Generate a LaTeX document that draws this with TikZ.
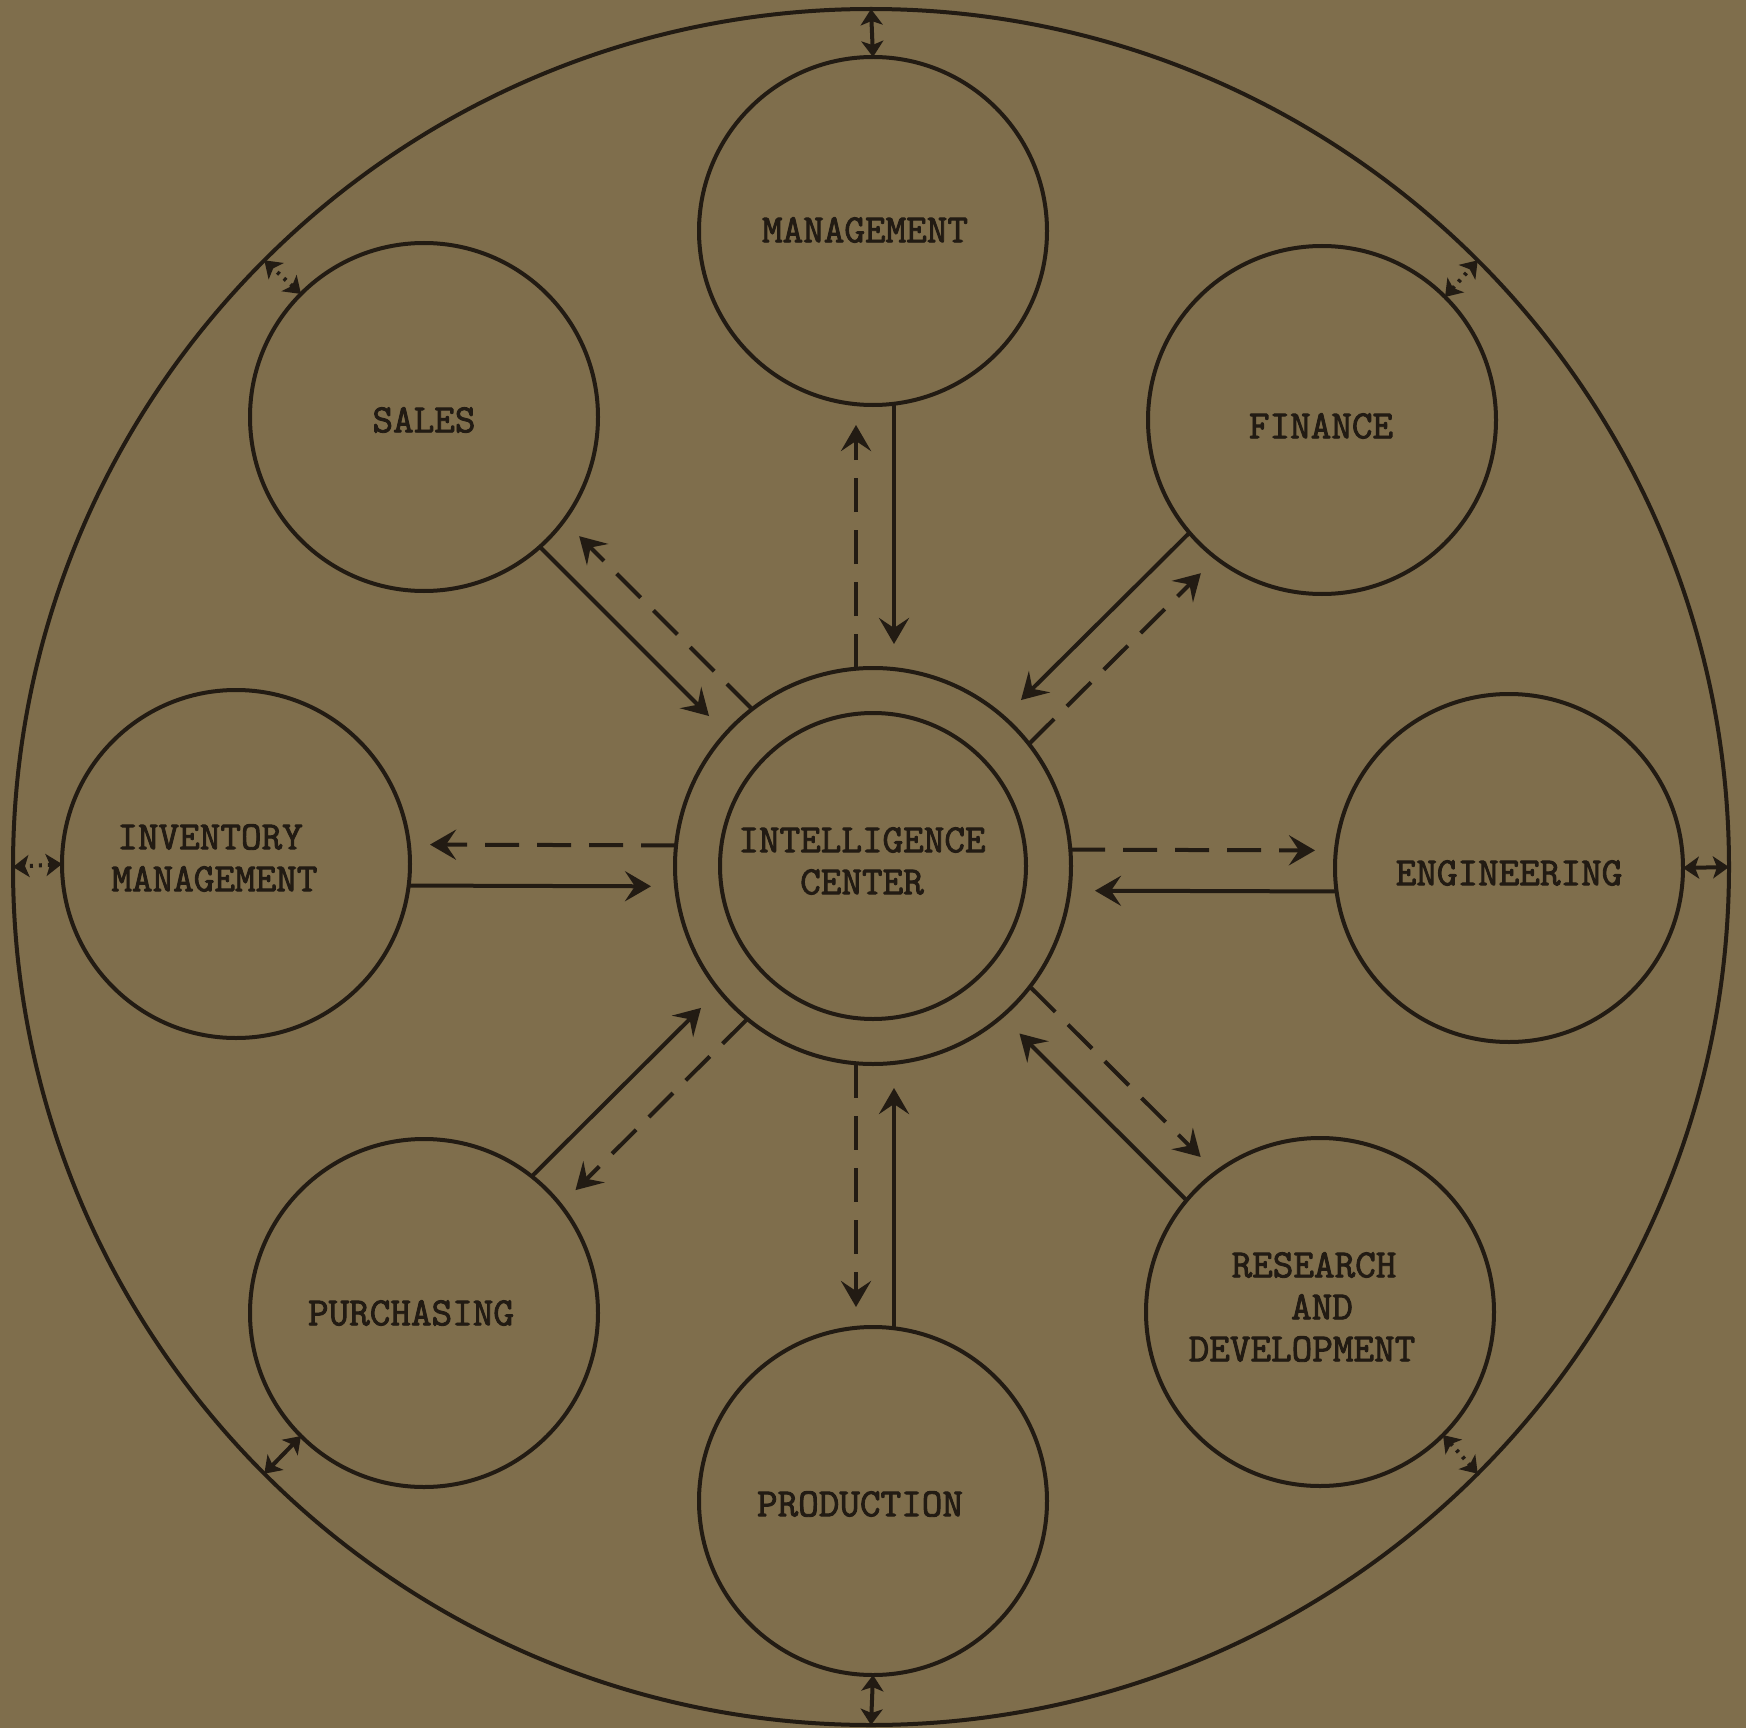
\documentclass[tikz,border=0pt]{standalone}
\usepackage{fontspec}
\newfontfamily\twfont{Latin Modern Mono}[FakeBold=2.2]
\usetikzlibrary{arrows.meta}
\definecolor{paper}{HTML}{7F6E4C}
\definecolor{ink}{HTML}{221B13}
\tikzset{
  ring/.style={circle, draw=ink, line width=2pt, inner sep=0pt, outer sep=0pt},
  sat/.style={ring, minimum size=174pt},
  lbl/.style={font=\twfont\bfseries\fontsize{20}{21}\selectfont, text=ink, align=center, inner sep=0pt},
  bigtip/.tip={Stealth[length=13pt,width=15pt,inset=5pt]},
  smalltip/.tip={Stealth[length=8pt,width=11pt,inset=2pt]},
  solidarr/.style={draw=ink, line width=2pt, -bigtip, shorten >=12pt},
  dasharr/.style={draw=ink, line width=2pt, dash pattern=on 17pt off 9pt, -bigtip, shorten >=10pt},
  linkarr/.style={draw=ink, line width=2pt, smalltip-smalltip},
  dotlink/.style={linkarr, dash pattern=on 1.5pt off 3pt},
}
\begin{document}
\begin{tikzpicture}[x=0.5pt,y=-0.5pt]
\fill[paper] (0,0) rectangle (1746,1728);
\useasboundingbox (0,0) rectangle (1746,1728);

% outer circle
\node[ring, minimum size=858pt] (outer) at (871,867) {};

% intelligence center
\node[ring, minimum size=198pt] (icout) at (873,866) {};
\node[ring, minimum size=153pt] (icin) at (873,866) {};
\node[lbl] (tic) at (862,861) {INTELLIGENCE\\CENTER};

% satellites
\node[sat] (mgmt) at (873,231) {};
\node[sat] (sales) at (424,417) {};
\node[sat] (fin) at (1322,420) {};
\node[sat] (inv) at (236,864) {};
\node[sat] (eng) at (1509,868) {};
\node[sat] (pur) at (424,1313) {};
\node[sat] (prod) at (873,1501) {};
\node[sat] (rd) at (1320,1312) {};

% labels
\node[lbl] (tmgmt) at (865,230) {MANAGEMENT};
\node[lbl] (tsales) at (424,420) {SALES};
\node[lbl] (tfin) at (1321,426) {FINANCE};
\node[lbl, align=left, anchor=west] (tinv) at (111,858) {\hspace*{0.15em}INVENTORY\\MANAGEMENT};
\node[lbl] (teng) at (1509,873) {ENGINEERING};
\node[lbl] (tpur) at (411,1313) {PURCHASING};
\node[lbl] (tprod) at (860,1504) {PRODUCTION};
\node[lbl] (trd) at (1302,1307) {\hspace*{0.6em}RESEARCH\\\hspace*{1em}AND\\DEVELOPMENT};

% connectors to the intelligence center
\draw[solidarr, transform canvas={shift={(21,0)}}] (mgmt) -- (icout);
\draw[dasharr, transform canvas={shift={(-17,0)}}] (icout) -- (mgmt);

\draw[solidarr, transform canvas={shift={(0,21)}}] (inv) -- (icout);
\draw[dasharr, transform canvas={shift={(0,-20)}}] (icout) -- (inv);

\draw[solidarr, transform canvas={shift={(0,24)}}] (eng) -- (icout);
\draw[dasharr, transform canvas={shift={(0,-17)}}] (icout) -- (eng);

\draw[solidarr, transform canvas={shift={(21,0)}}] (prod) -- (icout);
\draw[dasharr, transform canvas={shift={(-17,0)}}] (icout) -- (prod);

\draw[solidarr, transform canvas={shift={(-7,7)}}] (sales) -- (icout);
\draw[dasharr, transform canvas={shift={(18,-18)}}] (icout) -- (sales);

\draw[solidarr, transform canvas={shift={(-9.5,-9.5)}}] (fin) -- (icout);
\draw[dasharr, transform canvas={shift={(16.5,16.5)}}] (icout) -- (fin);

\draw[solidarr, transform canvas={shift={(-14.7,-14.7)}}] (pur) -- (icout);
\draw[dasharr, transform canvas={shift={(14,14)}}] (icout) -- (pur);

\draw[solidarr, transform canvas={shift={(-10.7,10.7)}}] (rd) -- (icout);
\draw[dasharr, transform canvas={shift={(18,-18)}}] (icout) -- (rd);

% small links to the outer circle
\draw[linkarr] (mgmt.north) -- (outer.north);
\draw[dotlink] (sales.135) -- (outer.135);
\draw[dotlink] (fin.45) -- (outer.45);
\draw[dotlink] (inv.west) -- (outer.west);
\draw[linkarr] (eng.east) -- (outer.east);
\draw[linkarr] (pur.225) -- (outer.225);
\draw[linkarr] (prod.south) -- (outer.south);
\draw[dotlink] (rd.315) -- (outer.315);
\end{tikzpicture}
\end{document}
